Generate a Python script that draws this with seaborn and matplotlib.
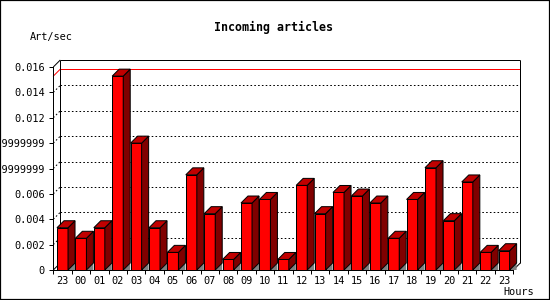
import numpy as np
import pandas as pd
import matplotlib
matplotlib.use("Agg")
import matplotlib.pyplot as plt
import seaborn as sns
from matplotlib.patches import Polygon, Rectangle

# ---- data ----
hours = ["23", "00", "01", "02", "03", "04", "05", "06", "07", "08", "09", "10",
         "11", "12", "13", "14", "15", "16", "17", "18", "19", "20", "21", "22", "23"]
art_per_sec = [0.00333, 0.00250, 0.00333, 0.01528, 0.01000, 0.00333, 0.00139,
               0.00750, 0.00444, 0.00083, 0.00528, 0.00556, 0.00083, 0.00667,
               0.00444, 0.00611, 0.00583, 0.00528, 0.00250, 0.00556, 0.00806,
               0.00389, 0.00694, 0.00139, 0.00152]
y_ticks = [0, 0.002, 0.004, 0.006, 0.008, 0.010, 0.012, 0.014, 0.016]
y_tick_labels = ["0", "0.002", "0.004", "0.006", "0.00799999999999999",
                 "0.00999999999999999", "0.012", "0.014", "0.016"]
title = "Incoming articles"
y_label = "Art/sec"
x_label = "Hours"

FRONT = "#ff0000"
TOP = "#c00000"
SIDE = "#800000"
FLOOR = "#808080"

sns.set_theme(style="white")
plt.rcParams["font.family"] = ["DejaVu Sans Mono", "DejaVu Sans"]

W, H = 550, 300
fig = plt.figure(figsize=(W / 100, H / 100), dpi=100)
fig.patch.set_facecolor("white")
# front plane of the 3D box
left_px, right_px, top_px, bottom_px = 53.3, 513.3, 67.0, 270.0
ax = fig.add_axes([left_px / W, 1 - bottom_px / H,
                   (right_px - left_px) / W, (bottom_px - top_px) / H])
ax.set_facecolor("none")

lw = 0.72

df = pd.DataFrame({"slot": np.arange(len(hours)), "value": art_per_sec})
sns.barplot(data=df, x="slot", y="value", orient="x", color=FRONT, saturation=1,
            width=0.6, edgecolor="black", linewidth=lw, ax=ax, zorder=4)

n = len(hours)
ax.set_xlim(-0.5, n - 0.5)
ax.set_ylim(0, y_ticks[-1])

# depth offset (7 px right, 7 px up) converted to data units
p0 = ax.transData.transform((0, 0))
px_x = ax.transData.transform((1, 0))[0] - p0[0]
px_y = ax.transData.transform((0, 1))[1] - p0[1]
ddx = 7.0 / px_x
ddy = 7.0 / px_y

x0, x1 = -0.5, n - 0.5
ymax = y_ticks[-1]

# back plane grid lines (dotted)
for v in y_ticks[1:-1]:
    ax.plot([x0 + ddx, x1 + ddx], [v + ddy, v + ddy], color="black", lw=lw,
            ls=(0, (1.6, 2.2)), zorder=1, clip_on=False)
    ax.plot([x0, x0 + ddx], [v, v + ddy], color="black", lw=lw,
            ls=(0, (1.6, 2.2)), zorder=1, clip_on=False)

# max value line (red)
vmax = max(art_per_sec)
ax.plot([x0 + ddx, x1 + ddx], [vmax + ddy, vmax + ddy], color="#ff0000", lw=lw,
        zorder=1.5, clip_on=False)
ax.plot([x0, x0 + ddx], [vmax, vmax + ddy], color="#ff0000", lw=lw,
        zorder=1.5, clip_on=False)

# box frame
frame_kw = dict(color="black", lw=lw, zorder=2, clip_on=False, solid_capstyle="butt")
ax.plot([x0 + ddx, x0 + ddx], [ddy, ymax + ddy], **frame_kw)
ax.plot([x0 + ddx, x1 + ddx], [ymax + ddy, ymax + ddy], **frame_kw)
ax.plot([x1 + ddx, x1 + ddx], [ddy, ymax + ddy], **frame_kw)
ax.plot([x0, x0 + ddx], [ymax, ymax + ddy], **frame_kw)
ax.plot([x1, x1 + ddx], [0, ddy], **frame_kw)
ax.plot([x0, x0 + ddx], [0, ddy], **frame_kw)

# 3D faces for each bar
for bar in ax.patches[:]:
    bx = bar.get_x()
    bw = bar.get_width()
    bh = bar.get_height()
    r = bx + bw
    floor = Polygon([(r, 0), (r + ddx, ddy), (r + ddx, 0)], closed=True,
                    facecolor=FLOOR, edgecolor="none", zorder=3, clip_on=False)
    side = Polygon([(r, 0), (r, bh), (r + ddx, bh + ddy), (r + ddx, ddy)],
                   closed=True, facecolor=SIDE, edgecolor="black", lw=lw,
                   zorder=4, clip_on=False)
    top = Polygon([(bx, bh), (r, bh), (r + ddx, bh + ddy), (bx + ddx, bh + ddy)],
                  closed=True, facecolor=TOP, edgecolor="black", lw=lw,
                  zorder=4, clip_on=False)
    ax.add_patch(floor)
    ax.add_patch(side)
    ax.add_patch(top)
    bar.set_clip_on(False)

# spines / axes
for s in ["top", "right"]:
    ax.spines[s].set_visible(False)
for s in ["left", "bottom"]:
    ax.spines[s].set_color("black")
    ax.spines[s].set_linewidth(lw)
    ax.spines[s].set_zorder(5)

ax.set_yticks(y_ticks)
ax.set_yticklabels(y_tick_labels)
ax.set_xticks(np.arange(-0.5, n, 1.0))
ax.set_xticklabels([""] * (n + 1))
ax.set_xticks(np.arange(n), minor=True)
ax.set_xticklabels(hours, minor=True)
ax.tick_params(axis="y", which="major", direction="out", length=2.6, width=lw,
               color="black", pad=3.6, labelsize=7.4, labelcolor="black", left=True)
ax.tick_params(axis="x", which="major", direction="out", length=2.9, width=lw,
               color="black", bottom=True, labelbottom=False)
ax.tick_params(axis="x", which="minor", length=0, pad=4.0, labelsize=7.4,
               labelcolor="black", bottom=True)
ax.set_xlabel("")
ax.set_ylabel("")
ax.grid(False)

fig.text(274 / W, 1 - 27 / H, title, ha="center", va="center", fontsize=8.4,
         fontweight="bold", color="black")
fig.text(30 / W, 1 - 37 / H, y_label, ha="left", va="center", fontsize=7.4,
         color="black")
fig.text(534 / W, 1 - 292 / H, x_label, ha="right", va="center", fontsize=7.4,
         color="black")

fig.add_artist(Rectangle((0, 0), 1, 1, transform=fig.transFigure, fill=False,
                         edgecolor="black", lw=1.6, zorder=10))

fig.savefig("out.png", dpi=100, facecolor="white")
